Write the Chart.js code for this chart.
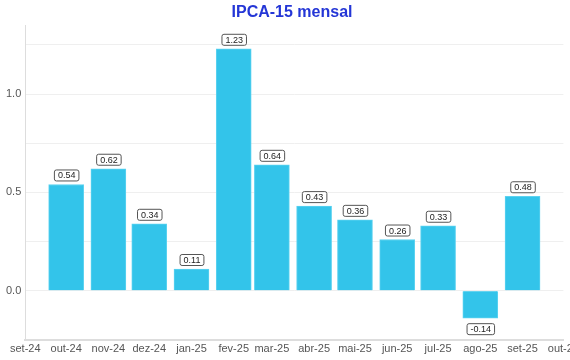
<!DOCTYPE html>
<html>
<head>
<meta charset="utf-8">
<script src="https://cdn.jsdelivr.net/npm/chart.js@4"></script>
<style>
html,body{margin:0;padding:0;overflow:hidden;background:#fff;}
#wrap{width:582px;height:360px;position:relative;}
</style>
</head>
<body>
<div id="wrap"><canvas id="c"></canvas></div>
<script>
// ---- data ----
const barMonths = ["2024-10-01","2024-11-01","2024-12-01","2025-01-01","2025-02-01","2025-03-01","2025-04-01","2025-05-01","2025-06-01","2025-07-01","2025-08-01","2025-09-01"];
const ipca15 = [0.54, 0.62, 0.34, 0.11, 1.23, 0.64, 0.43, 0.36, 0.26, 0.33, -0.14, 0.48];
const tickMonths = ["2024-09-01","2024-10-01","2024-11-01","2024-12-01","2025-01-01","2025-02-01","2025-03-01","2025-04-01","2025-05-01","2025-06-01","2025-07-01","2025-08-01","2025-09-01","2025-10-01"];
const tickLabels = ["set-24","out-24","nov-24","dez-24","jan-25","fev-25","mar-25","abr-25","mai-25","jun-25","jul-25","ago-25","set-25","out-25"];

const origin = Date.UTC(2024, 8, 1);
function dayOf(s){ const p = s.split('-'); return (Date.UTC(+p[0], +p[1]-1, +p[2]) - origin) / 86400000; }
const tickDays = tickMonths.map(dayOf);
const points = barMonths.map((m,i)=>({x: dayOf(m), y: ipca15[i]}));

const FONT = "'Liberation Sans', Arial, Helvetica, sans-serif";

const labelPlugin = {
  id: 'boxLabels',
  afterDatasetsDraw(chart){
    const ctx = chart.ctx;
    const meta = chart.getDatasetMeta(0);
    ctx.save();
    ctx.font = "9px " + FONT;
    ctx.textAlign = 'center';
    ctx.textBaseline = 'middle';
    meta.data.forEach((el, i) => {
      const v = chart.data.datasets[0].data[i].y;
      const txt = v.toFixed(2);
      const w = ctx.measureText(txt).width + 7;
      const h = 11;
      let top;
      if (v >= 0) top = el.y - 4 - h; else top = el.y + 5;
      const left = el.x - w/2;
      ctx.beginPath();
      ctx.roundRect(left + 0.5, top + 0.5, w, h, 2);
      ctx.fillStyle = '#fff';
      ctx.fill();
      ctx.strokeStyle = '#555';
      ctx.lineWidth = 1;
      ctx.stroke();
      ctx.fillStyle = '#222';
      ctx.fillText(txt, el.x + 0.5, top + h/2 + 1);
    });
    ctx.restore();
  }
};

new Chart(document.getElementById('c'), {
  type: 'bar',
  data: {
    datasets: [{
      data: points,
      backgroundColor: '#33c4ea',
      borderColor: '#5cd2f0',
      borderWidth: 1,
      barThickness: 35
    }]
  },
  options: {
    responsive: true,
    maintainAspectRatio: false,
    animation: false,
    layout: { padding: { left: 2, right: 0, top: 0, bottom: 1 } },
    plugins: {
      legend: { display: false },
      tooltip: { enabled: false },
      title: {
        display: true,
        text: 'IPCA-15 mensal',
        color: '#2436d6',
        font: { family: FONT, size: 16, weight: 'bold' },
        padding: { top: 3, bottom: 3 }
      }
    },
    scales: {
      x: {
        type: 'linear',
        min: tickDays[0],
        max: tickDays[tickDays.length-1],
        offset: false,
        afterBuildTicks(scale){ scale.ticks = tickDays.map(v=>({value:v})); },
        grid: { display: false, drawTicks: false },
        border: { color: '#ddd', width: 2 },
        ticks: {
          autoSkip: false,
          maxRotation: 0,
          color: '#555',
          font: { family: FONT, size: 11 },
          padding: 3,
          callback(v){ const i = tickDays.indexOf(v); return i >= 0 ? tickLabels[i] : ''; }
        }
      },
      y: {
        min: -0.25,
        max: 1.35,
        afterBuildTicks(scale){
          const t = [];
          for (let k = -1; k <= 5; k++) t.push({value: k*0.25});
          scale.ticks = t;
        },
        grid: { color: '#efefef', drawTicks: false },
        border: { color: '#ddd', width: 1 },
        ticks: {
          color: '#555',
          font: { family: FONT, size: 11 },
          padding: 4,
          callback(v){ return (Math.abs(v*2 - Math.round(v*2)) < 1e-9 && v >= 0) ? v.toFixed(1) : ''; }
        }
      }
    }
  },
  plugins: [labelPlugin]
});
</script>
</body>
</html>
